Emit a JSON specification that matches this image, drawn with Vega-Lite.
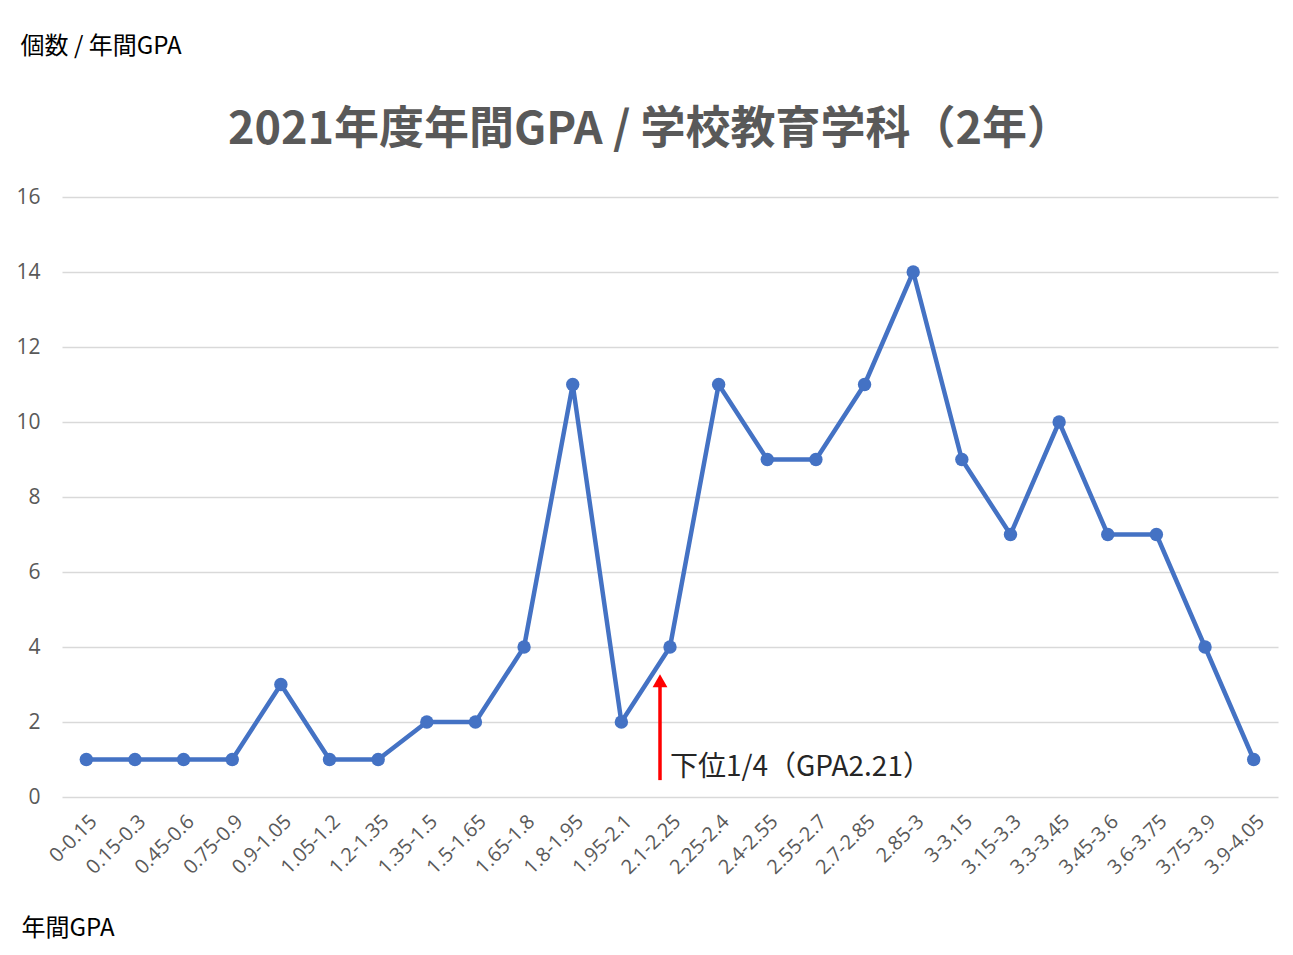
{
  "$schema": "https://vega.github.io/schema/vega-lite/v6.json",
  "autosize": {"type": "none"},
  "padding": {"left": 62, "top": 197, "right": 15, "bottom": 158},
  "width": 1216,
  "height": 600,
  "background": "white",
  "title": {
    "text": "2021年度年間GPA / 学校教育学科（2年）",
    "font": "Noto Sans CJK JP",
    "fontSize": 45,
    "fontWeight": "bold",
    "color": "#595959",
    "anchor": "middle",
    "dx": -20,
    "offset": -119
  },
  "config": {
    "view": {"stroke": null},
    "font": "Noto Sans CJK JP"
  },
  "datasets": {
    "gpa": [
      {"range": "0-0.15", "count": 1},
      {"range": "0.15-0.3", "count": 1},
      {"range": "0.45-0.6", "count": 1},
      {"range": "0.75-0.9", "count": 1},
      {"range": "0.9-1.05", "count": 3},
      {"range": "1.05-1.2", "count": 1},
      {"range": "1.2-1.35", "count": 1},
      {"range": "1.35-1.5", "count": 2},
      {"range": "1.5-1.65", "count": 2},
      {"range": "1.65-1.8", "count": 4},
      {"range": "1.8-1.95", "count": 11},
      {"range": "1.95-2.1", "count": 2},
      {"range": "2.1-2.25", "count": 4},
      {"range": "2.25-2.4", "count": 11},
      {"range": "2.4-2.55", "count": 9},
      {"range": "2.55-2.7", "count": 9},
      {"range": "2.7-2.85", "count": 11},
      {"range": "2.85-3", "count": 14},
      {"range": "3-3.15", "count": 9},
      {"range": "3.15-3.3", "count": 7},
      {"range": "3.3-3.45", "count": 10},
      {"range": "3.45-3.6", "count": 7},
      {"range": "3.6-3.75", "count": 7},
      {"range": "3.75-3.9", "count": 4},
      {"range": "3.9-4.05", "count": 1}
    ],
    "arrow": [
      {"range": "2.1-2.25", "y0": 0.45, "y1": 2.95, "tip": 3.1, "label": "下位1/4（GPA2.21）", "ly": 0.77}
    ]
  },
  "layer": [
    {
      "data": {"name": "gpa"},
      "mark": {"type": "line", "color": "#4472C4", "strokeWidth": 4.5, "strokeJoin": "round",
               "point": {"filled": true, "color": "#4472C4", "size": 180, "opacity": 1}},
      "encoding": {
        "x": {
          "field": "range", "type": "ordinal", "sort": null,
          "scale": {"type": "point", "padding": 0.5},
          "axis": {
            "title": "年間GPA",
            "titleFont": "Noto Sans CJK JP",
            "titleFontSize": 24,
            "titleFontWeight": "normal",
            "titleColor": "#000000",
            "titleAngle": 0,
            "titleAlign": "left",
            "titleBaseline": "middle",
            "titleAnchor": "start",
            "titleX": -41,
            "titleY": 131,
            "labelAngle": -45,
            "labelFont": "Open Sans",
            "labelFontSize": 20,
            "labelColor": "#595959",
            "labelPadding": 14,
            "labelOverlap": false,
            "ticks": false,
            "domain": false,
            "grid": false
          }
        },
        "y": {
          "field": "count", "type": "quantitative",
          "scale": {"domain": [0, 16]},
          "axis": {
            "values": [0, 2, 4, 6, 8, 10, 12, 14, 16],
            "title": "個数 / 年間GPA",
            "titleFont": "Noto Sans CJK JP",
            "titleFontSize": 24,
            "titleFontWeight": "normal",
            "titleColor": "#000000",
            "titleAngle": 0,
            "titleAlign": "left",
            "titleBaseline": "middle",
            "titleX": -42,
            "titleY": -151,
            "labelFont": "Open Sans",
            "labelFontSize": 21,
            "labelColor": "#595959",
            "labelPadding": 22,
            "ticks": false,
            "domain": false,
            "grid": true,
            "gridColor": "#d9d9d9",
            "gridWidth": 1.5
          }
        }
      }
    },
    {
      "data": {"name": "arrow"},
      "mark": {"type": "rule", "color": "#ff0000", "strokeWidth": 3.5, "xOffset": -10},
      "encoding": {
        "x": {"field": "range", "type": "ordinal", "sort": null},
        "y": {"field": "y0", "type": "quantitative"},
        "y2": {"field": "y1"}
      }
    },
    {
      "data": {"name": "arrow"},
      "mark": {"type": "point", "shape": "triangle-up", "filled": true, "color": "#ff0000", "size": 220, "opacity": 1, "xOffset": -10},
      "encoding": {
        "x": {"field": "range", "type": "ordinal", "sort": null},
        "y": {"field": "tip", "type": "quantitative"}
      }
    },
    {
      "data": {"name": "arrow"},
      "mark": {"type": "text", "align": "left", "baseline": "middle", "font": "Noto Sans CJK JP", "fontSize": 28, "color": "#262626", "dx": 0},
      "encoding": {
        "x": {"field": "range", "type": "ordinal", "sort": null},
        "y": {"field": "ly", "type": "quantitative"},
        "text": {"field": "label"}
      }
    }
  ]
}
